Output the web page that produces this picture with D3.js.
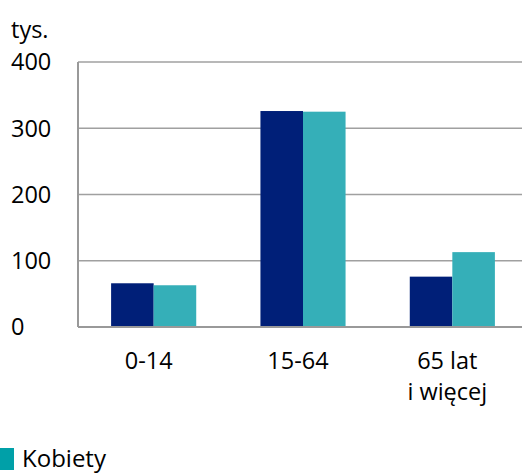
<!DOCTYPE html>
<html>
<head>
<meta charset="utf-8">
<script src="https://cdn.jsdelivr.net/npm/d3@7"></script>
<style>
  html, body { margin: 0; padding: 0; background: #fff; overflow: hidden; }
  svg { display: block; font-family: "Open Sans", "Noto Sans", sans-serif; }
</style>
</head>
<body>
<div id="chart"></div>
<script>
const categories = ['0-14', '15-64', '65 lat\ni więcej'];
const series = ['Mężczyźni', 'Kobiety'];
const men = [66, 326, 76];
const women = [63, 325, 113];
const yTicks = [0, 100, 200, 300, 400];

const colors = { 'Mężczyźni': '#001f78', 'Kobiety': '#35afb8' };

const width = 522;
const height = 473;
const margin = { top: 62, right: 0, bottom: 146, left: 78 };

const svg = d3
  .select('#chart')
  .append('svg')
  .attr('width', width)
  .attr('height', height);

// the plot runs a little past the right edge of the picture
const x = d3
  .scaleBand()
  .domain(categories)
  .range([79, 527])
  .paddingInner(0.43)
  .paddingOuter(0.215);

const xInner = d3.scaleBand().domain(series).range([0, x.bandwidth()]);

const y = d3
  .scaleLinear()
  .domain([0, 400])
  .range([height - margin.bottom, margin.top]);

// gridlines
svg
  .selectAll('line.grid')
  .data(yTicks.filter((d) => d > 0))
  .join('line')
  .attr('x1', margin.left)
  .attr('x2', width - margin.right)
  .attr('y1', (d) => y(d))
  .attr('y2', (d) => y(d))
  .attr('stroke', '#a0a0a0')
  .attr('stroke-width', 1.5);

const rows = categories.map((c, i) => ({ category: c, values: [men[i], women[i]] }));

const groups = svg
  .selectAll('g.group')
  .data(rows)
  .join('g')
  .attr('transform', (d) => `translate(${x(d.category)},0)`);

groups
  .selectAll('rect')
  .data((d) => series.map((s, i) => ({ key: s, value: d.values[i] })))
  .join('rect')
  .attr('x', (d) => xInner(d.key))
  .attr('width', xInner.bandwidth())
  .attr('y', (d) => y(d.value))
  .attr('height', (d) => y(0) - y(d.value))
  .attr('fill', (d) => colors[d.key]);

// axis lines
svg
  .append('line')
  .attr('x1', margin.left)
  .attr('x2', margin.left)
  .attr('y1', y(400))
  .attr('y2', y(0))
  .attr('stroke', '#999')
  .attr('stroke-width', 2);

svg
  .append('line')
  .attr('x1', margin.left)
  .attr('x2', width - margin.right)
  .attr('y1', y(0))
  .attr('y2', y(0))
  .attr('stroke', '#999')
  .attr('stroke-width', 2);

// y tick labels
svg
  .selectAll('text.ytick')
  .data(yTicks)
  .join('text')
  .attr('x', 11)
  .attr('y', (d) => y(d))
  .attr('dy', '0.36em')
  .attr('font-size', 23.5)
  .attr('fill', '#000')
  .text((d) => d);

svg
  .append('text')
  .attr('x', 11)
  .attr('y', 38)
  .attr('font-size', 23.5)
  .attr('fill', '#000')
  .text('tys.');

// x labels
const labelX = (d) => x(d) + x.bandwidth() / 2 - 5;

const xLabels = svg
  .selectAll('text.xlab')
  .data(categories)
  .join('text')
  .attr('x', labelX)
  .attr('y', 369)
  .attr('text-anchor', 'middle')
  .attr('font-size', 23.5)
  .attr('fill', '#000');

xLabels
  .selectAll('tspan')
  .data((d) => d.split('\n').map((line) => ({ line, x: labelX(d) })))
  .join('tspan')
  .attr('x', (d) => d.x)
  .attr('dy', (d, i) => (i === 0 ? 0 : 31))
  .text((d) => d.line);

// legend
const legend = svg.append('g').attr('transform', 'translate(0,448)');
legend.append('rect').attr('width', 14).attr('height', 22).attr('fill', '#00a0a8');
legend
  .append('text')
  .attr('x', 22)
  .attr('y', 19)
  .attr('font-size', 24)
  .attr('fill', '#000')
  .text('Kobiety');
</script>
</body>
</html>
